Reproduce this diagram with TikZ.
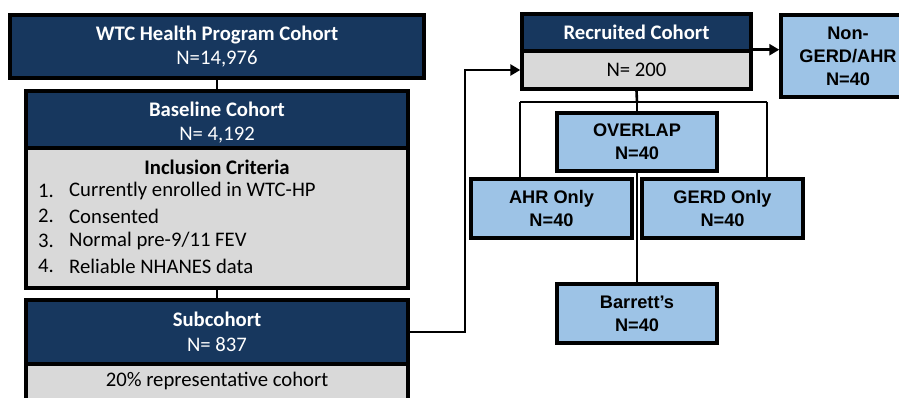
\documentclass[tikz,border=0pt]{standalone}
\usepackage{fontspec}
\setmainfont{Carlito}
\newfontfamily\arialfont{Liberation Sans}
\usetikzlibrary{arrows.meta}
\definecolor{navy}{HTML}{17375E}
\definecolor{lgray}{HTML}{D9D9D9}
\definecolor{lblue}{HTML}{9DC3E6}
\tikzset{
  boxbase/.style={draw=black, line width=3.4pt, inner sep=0pt, align=center},
  darkbox/.style={boxbase, fill=navy, text=white, font=\fontsize{20.7}{24.5}\selectfont},
  graybox/.style={boxbase, fill=lgray, text=black, font=\fontsize{20.7}{24.5}\selectfont},
  bluebox/.style={boxbase, fill=lblue, text=black, font=\arialfont\bfseries\fontsize{18.2}{23}\selectfont},
  txt/.style={inner sep=0pt, font=\fontsize{20.7}{24.5}\selectfont},
  conn/.style={draw=black, line width=2.6pt},
  arr/.style={conn, -{Triangle[length=10pt,width=11pt]}},
}
\begin{document}
\begin{tikzpicture}[x=1pt,y=-1pt]
\useasboundingbox (0,0) rectangle (899,398);
\clip (0,0) rectangle (899,398);
% left column
\node[darkbox, minimum width=414, minimum height=63] (wtc) at (217,46.5)
  {\textbf{WTC Health Program Cohort}\\N=14,976};
\node[darkbox, minimum width=382, minimum height=57] (basehead) at (217,119.5) {};
\node[txt, text=white, align=center] (basetxt) at (217,122.5) {\textbf{Baseline Cohort}\\N= 4,192};
\node[graybox, minimum width=382, minimum height=140] (basebody) at (217,218) {};
\node[txt, font=\bfseries\fontsize{20.7}{24.5}\selectfont] (crit) at (217,167) {Inclusion Criteria};
\node[txt, anchor=west] (n1) at (38,191) {1.};
\node[txt, anchor=west] (t1) at (69,191) {Currently enrolled in WTC-HP};
\node[txt, anchor=west] (n2) at (38,216) {2.};
\node[txt, anchor=west] (t2) at (69,216) {Consented};
\node[txt, anchor=west] (n3) at (38,241) {3.};
\node[txt, anchor=west] (t3) at (69,241) {Normal pre-9/11 FEV};
\node[txt, anchor=west] (n4) at (38,266) {4.};
\node[txt, anchor=west] (t4) at (69,266) {Reliable NHANES data};
\node[darkbox, minimum width=382, minimum height=64] (subhead) at (217,332)
  {\textbf{Subcohort}\\N= 837};
\node[graybox, minimum width=382, minimum height=56] (subbody) at (217,392) {};
\node[txt] (subtxt) at (217,381) {20\% representative cohort};
% right part
\node[darkbox, minimum width=229, minimum height=37] (rechead) at (636.5,32.5)
  {\textbf{Recruited Cohort}};
\node[graybox, minimum width=229, minimum height=38] (recbody) at (636.5,70) {N= 200};
\node[bluebox, minimum width=134, minimum height=82] (nongerd) at (848,56)
  {Non-\\GERD/AHR\\N=40};
\node[bluebox, minimum width=160, minimum height=58] (overlap) at (637,142) {OVERLAP\\N=40};
\node[bluebox, minimum width=161, minimum height=59] (ahr) at (551.5,208.5) {AHR Only\\N=40};
\node[bluebox, minimum width=161, minimum height=59] (gerd) at (722.5,208.5) {GERD Only\\N=40};
\node[bluebox, minimum width=160, minimum height=59] (barrett) at (637,313.5) {Barrett’s\\N=40};
% connectors
\draw[conn] (wtc.south) -- (basehead.north);
\draw[conn] (basebody.south) -- (subhead.north);
\coordinate (bend) at (465,332);
\draw[arr] (subhead.east) -- (bend) |- (recbody.west);
\coordinate (recout) at ([yshift=3pt]rechead.south east);
\draw[arr] (recout) -- (nongerd.west |- recout);
\coordinate (jm) at (637,102);
\coordinate (ja) at (520,102);
\coordinate (jg) at (767,102);
\draw[conn] (recbody.south) -- (jm);
\draw[conn] (ja) -- (jg);
\draw[conn] (ja) -- (ja |- ahr.north);
\draw[conn] (jg) -- (jg |- gerd.north);
\draw[conn] (jm) -- (overlap.north);
\draw[conn] (overlap.south) -- (barrett.north);
\end{tikzpicture}
\end{document}
